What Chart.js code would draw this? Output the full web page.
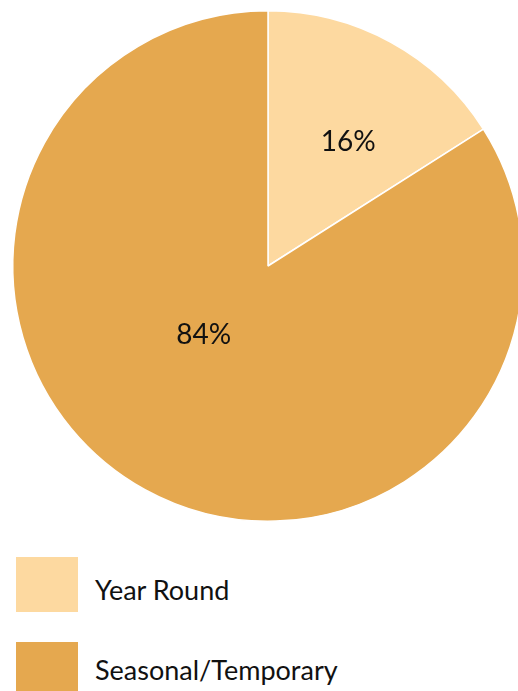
<!DOCTYPE html>
<html lang="en">
<head>
    <meta charset="UTF-8">
    <title>Employment Type</title>
    <script src="https://cdn.jsdelivr.net/npm/chart.js"></script>
    <style>
        html, body {
            margin: 0;
            padding: 0;
            background: #fff;
            overflow: hidden;
            font-family: Lato, "Open Sans", sans-serif;
        }
        .chart-box {
            position: absolute;
            left: 0;
            top: 0;
            width: 536px;
            height: 532px;
        }
        .legend {
            position: absolute;
            left: 16px;
            top: 557px;
        }
        .legend-item {
            display: flex;
            align-items: center;
            height: 55px;
            margin-bottom: 30px;
        }
        .legend-swatch {
            width: 62px;
            height: 55px;
            margin-right: 17px;
        }
        .legend-text {
            font-size: 27px;
            color: #111;
        }
        .legend-item:first-child .legend-text {
            padding-top: 10px;
        }
    </style>
</head>
<body>
    <div class="chart-box">
        <canvas id="pieChart" width="536" height="532"></canvas>
    </div>
    <div class="legend" id="legend"></div>

    <script>
        const categories = ['Year Round', 'Seasonal/Temporary'];
        const shares = [16, 84];
        const sliceColors = ['#FDD9A0', '#E5A84F'];

        // percentage text inside each slice: distance as a share of the radius,
        // and a small clockwise turn away from the slice's middle angle
        const sliceLabels = {
            id: 'sliceLabels',
            afterDatasetsDraw(chart, args, opts) {
                const ctx = chart.ctx;
                const meta = chart.getDatasetMeta(0);
                ctx.save();
                ctx.font = '28px Lato, "Open Sans", sans-serif';
                ctx.fillStyle = '#111';
                ctx.textAlign = 'center';
                ctx.textBaseline = 'middle';
                meta.data.forEach((arc, i) => {
                    const p = opts.place[i];
                    const mid = (arc.startAngle + arc.endAngle) / 2 + p.turn * Math.PI / 180;
                    const d = arc.outerRadius * p.r;
                    const x = arc.x + Math.cos(mid) * d;
                    const y = arc.y + Math.sin(mid) * d;
                    ctx.fillText(shares[i] + '%', x, y);
                });
                ctx.restore();
            }
        };

        new Chart(document.getElementById('pieChart'), {
            type: 'pie',
            data: {
                labels: categories,
                datasets: [{
                    data: shares,
                    backgroundColor: sliceColors,
                    borderColor: '#ffffff',
                    borderWidth: 1.5
                }]
            },
            options: {
                responsive: false,
                animation: false,
                layout: { padding: { top: 10, bottom: 10, left: 0, right: 0 } },
                plugins: {
                    legend: { display: false },
                    tooltip: { enabled: false },
                    sliceLabels: {
                        place: [{ r: 0.58, turn: 4 }, { r: 0.37, turn: 14 }]
                    }
                }
            },
            plugins: [sliceLabels]
        });

        // legend stacked under the pie
        const legend = document.getElementById('legend');
        categories.forEach((name, i) => {
            const item = document.createElement('div');
            item.className = 'legend-item';
            item.innerHTML = '<div class="legend-swatch" style="background:' + sliceColors[i] + '"></div>' +
                '<div class="legend-text">' + name + '</div>';
            legend.appendChild(item);
        });
    </script>
</body>
</html>
